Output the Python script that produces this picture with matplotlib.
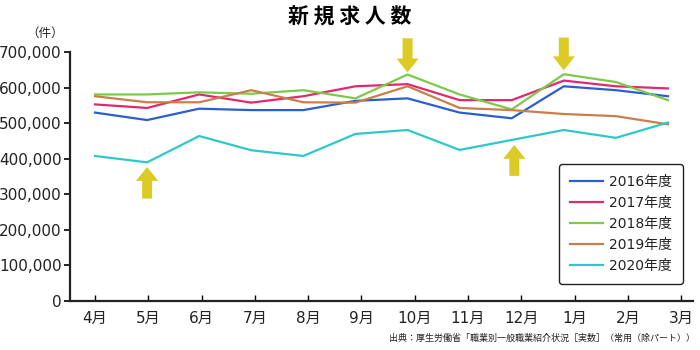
import matplotlib
matplotlib.use("Agg")
import matplotlib.pyplot as plt
import numpy as np

plt.rcParams['font.family'] = ['DejaVu Sans', 'Noto Sans CJK JP']

# 月 (4月〜3月)
months = ["4月", "5月", "6月", "7月", "8月", "9月", "10月", "11月", "12月", "1月", "2月", "3月"]
years = ["2016年度", "2017年度", "2018年度", "2019年度", "2020年度"]

y2016 = [530000, 509000, 541000, 537000, 537000, 563000, 570000, 530000, 514000, 604000, 593000, 576000]
y2017 = [553000, 543000, 581000, 558000, 576000, 604000, 610000, 565000, 565000, 620000, 604000, 598000]
y2018 = [581000, 581000, 587000, 583000, 593000, 570000, 637000, 581000, 539000, 638000, 616000, 565000]
y2019 = [576000, 559000, 559000, 593000, 559000, 558000, 604000, 543000, 537000, 526000, 520000, 497000]
y2020 = [408000, 390000, 464000, 424000, 408000, 470000, 481000, 425000, 453000, 481000, 459000, 502000]
series = [y2016, y2017, y2018, y2019, y2020]
colors = ["#2b5fd0", "#e2286f", "#7cc94b", "#c97e4b", "#2fc8ca"]

fig = plt.figure(figsize=(7, 3.5), dpi=100)
ax = fig.add_axes([0.1, 0.14, 0.89, 0.711])

x = np.arange(len(months))
for vals, c, lab in zip(series, colors, years):
    ax.plot(x, vals, color=c, lw=1.6, label=lab)

ax.set_ylim(0, 700000)
ax.set_xlim(-0.48, 11.48)
ax.set_yticks(np.arange(0, 700001, 100000))
ax.set_yticklabels([f"{v:,}" for v in range(0, 700001, 100000)], fontsize=11, color='#222222')
# 目盛りは少し広めに並んでいる
ax.set_xticks(x * 1.023)
ax.set_xticklabels(months, fontsize=11, color='#222222')
ax.tick_params(axis='x', direction='in', length=4, width=1, pad=7)
ax.tick_params(axis='y', direction='out', length=4, width=1.2, pad=2)
for s in ['top', 'right']:
    ax.spines[s].set_visible(False)
for s in ['left', 'bottom']:
    ax.spines[s].set_linewidth(1.6)
    ax.spines[s].set_color('#222222')

# 矢印
yellow = "#dccb26"
arrow = dict(arrowstyle='simple,head_width=1.6,head_length=1.0,tail_width=0.72',
             color=yellow, mutation_scale=10, shrinkA=0, shrinkB=0, lw=0)
for xi, tip, tail in [(6, 643000, 739000), (9, 649000, 741000),
                      (1, 377000, 288000), (8.05, 439000, 352000)]:
    ax.annotate('', xy=(xi, tip), xytext=(xi, tail), arrowprops=arrow,
                annotation_clip=False)

leg = ax.legend(loc='lower right', bbox_to_anchor=(0.984, 0.068), borderaxespad=0,
                fontsize=10, frameon=True, fancybox=True, edgecolor='#222222',
                handlelength=2.4, handletextpad=0.4, labelspacing=0.5, borderpad=0.8)
leg.get_frame().set_linewidth(1.0)
leg.get_frame().set_alpha(1)
for t in leg.get_texts():
    t.set_color('#222222')

fig.text(0.5, 0.95, "新 規 求 人 数", ha='center', va='center', fontsize=15,
         fontweight='bold', family=['Noto Sans CJK JP'])
fig.text(0.065, 0.905, "（件）", ha='center', va='center', fontsize=9,
         family=['Noto Sans CJK JP'], color='#222222')
fig.text(0.993, 0.02, "出典：厚生労働省「職業別一般職業紹介状況［実数］（常用（除パート））",
         ha='right', va='bottom', fontsize=6.5, family=['Noto Sans CJK JP'], color='#222222')

fig.savefig("out.png", dpi=100)
